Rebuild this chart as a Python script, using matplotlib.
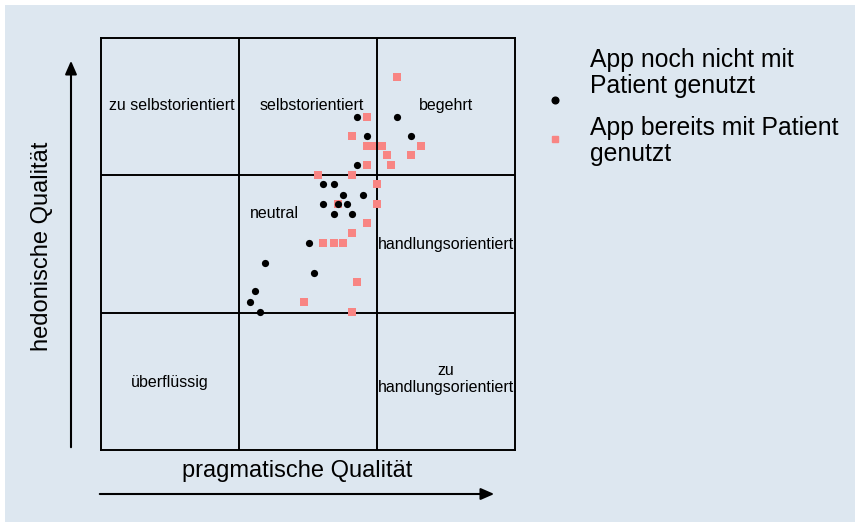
import matplotlib
matplotlib.use("Agg")
import matplotlib.pyplot as plt
from matplotlib.patches import Rectangle, FancyArrowPatch
from matplotlib.lines import Line2D

plt.rcParams['font.family'] = ['Liberation Sans', 'DejaVu Sans']

# App noch nicht mit Patient genutzt
pq_noch = [0.71, 1.29, 0.86, 1.49, 0.71, 0.22, 0.37, 0.50, 0.79, 0.22,
           0.43, 0.57, 0.37, 0.64, 0.01, -0.62, 0.08, -0.77, -0.84, -0.69]
hq_noch = [1.85, 1.85, 1.57, 1.57, 1.15, 0.87, 0.87, 0.72, 0.72, 0.58,
           0.58, 0.58, 0.44, 0.44, 0.01, -0.28, -0.42, -0.69, -0.84, -0.99]

# App bereits mit Patient genutzt
pq_bereits = [1.29, 0.86, 0.64, 0.86, 0.93, 1.07, 1.14, 1.49, 1.64, 1.21,
              0.86, 0.15, 0.64, 1.00, 1.00, 0.43, 0.86, 0.64, 0.22, 0.37,
              0.50, 0.71, -0.06, 0.64]
hq_bereits = [2.43, 1.85, 1.57, 1.43, 1.43, 1.43, 1.29, 1.29, 1.43, 1.15,
              1.15, 1.00, 1.00, 0.87, 0.58, 0.58, 0.30, 0.16, 0.01, 0.01,
              0.01, -0.55, -0.84, -0.99]

regions = ["zu selbstorientiert", "selbstorientiert", "begehrt", "neutral",
           "handlungsorientiert", "überflüssig", "zu\nhandlungsorientiert"]
region_pos = [(-1.98, 2.01), (0.05, 2.01), (2.0, 2.01), (-0.49, 0.45),
              (2.0, 0.0), (-2.0, -2.01), (2.0, -1.97)]

bg = '#dde7f0'
fig = plt.figure(figsize=(8.55, 5.22), dpi=100)
fig.patch.set_facecolor('white')
fig.patches.append(Rectangle((5 / 855, 0), 1, 1 - 5 / 522, transform=fig.transFigure,
                             facecolor=bg, edgecolor='none', zorder=-10))

ax = fig.add_axes([101 / 855, 72 / 522, 414 / 855, 412 / 522])
ax.set_facecolor(bg)
ax.set_xlim(-3, 3)
ax.set_ylim(-3, 3)
ax.set_xticks([])
ax.set_yticks([])
for s in ax.spines.values():
    s.set_linewidth(1.4)
for v in (-1, 1):
    ax.axvline(v, color='black', lw=1.4)
    ax.axhline(v, color='black', lw=1.4)

for txt, (x, y) in zip(regions, region_pos):
    ax.text(x, y, txt, ha='center', va='center', fontsize=11.5, linespacing=1.15)

ax.scatter(pq_bereits, hq_bereits, marker='s', s=26, color='#f88583',
           linewidths=0, zorder=3)
ax.scatter(pq_noch, hq_noch, marker='o', s=27, color='black',
           linewidths=0, zorder=4)

# achsen-pfeile
fig.add_artist(FancyArrowPatch(
    (71 / 855, 1 - 450 / 522), (71 / 855, 1 - 58 / 522), transform=fig.transFigure,
    arrowstyle='-|>,head_length=8,head_width=3.5', color='black', lw=1.5))
fig.add_artist(FancyArrowPatch(
    (97 / 855, 1 - 494 / 522), (497 / 855, 1 - 494 / 522), transform=fig.transFigure,
    arrowstyle='-|>,head_length=8,head_width=3.5', color='black', lw=1.5))

fig.text(42 / 855, 1 - 246 / 522, "hedonische Qualität", rotation=90,
         ha='center', va='center', fontsize=17)
fig.text(297 / 855, 1 - 471 / 522, "pragmatische Qualität",
         ha='center', va='center', fontsize=17)

# legende
fig.add_artist(Line2D([555 / 855], [1 - 100 / 522], marker='o',
               ms=4.8, color='black', transform=fig.transFigure, lw=0))
fig.text(590 / 855, 1 - 73 / 522, "App noch nicht mit\nPatient genutzt",
         ha='left', va='center', fontsize=17.8, linespacing=1.1)
fig.add_artist(Line2D([555 / 855], [1 - 139 / 522], marker='s',
               ms=4.8, color='#f88583', transform=fig.transFigure, lw=0))
fig.text(590 / 855, 1 - 141 / 522, "App bereits mit Patient\ngenutzt",
         ha='left', va='center', fontsize=17.8, linespacing=1.1)

fig.savefig("out.png", dpi=100)
